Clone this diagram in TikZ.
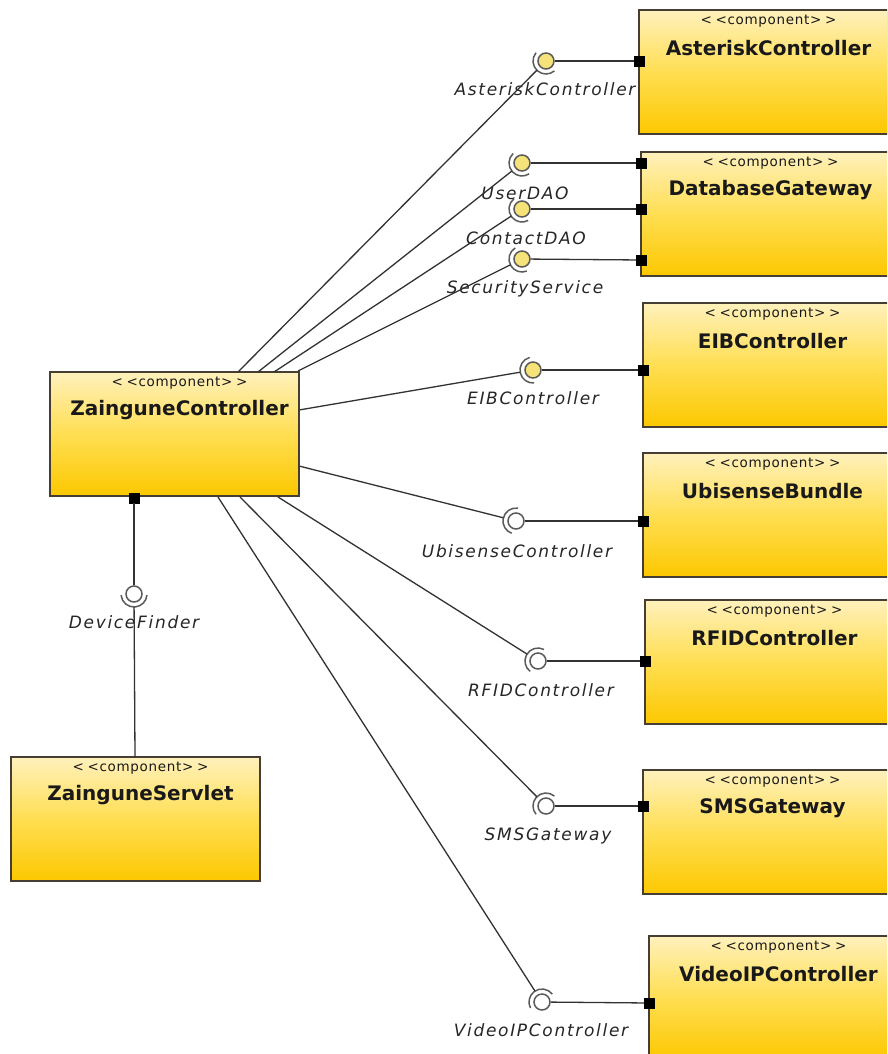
\documentclass[tikz,border=0pt]{standalone}
\usepackage{fontspec}
\setmainfont{DejaVu Sans}
\newfontfamily\lblfont[LetterSpace=10]{DejaVu Sans}
\newfontfamily\namefont{DejaVu Sans}
\newfontfamily\stereofont[LetterSpace=5]{DejaVu Sans}
\usetikzlibrary{calc}

\definecolor{boxtop}{RGB}{255,241,188}
\definecolor{boxmid}{RGB}{255,222,82}
\definecolor{boxbot}{RGB}{252,200,0}
\definecolor{edgec}{RGB}{70,62,50}
\definecolor{wirec}{RGB}{50,50,50}
\definecolor{lolly}{RGB}{245,226,120}
\definecolor{ringc}{RGB}{90,90,90}

\tikzset{
  comp/.style={draw=edgec, line width=1.3pt, top color=boxtop, bottom color=boxbot,
    middle color=boxmid, minimum width=249pt, minimum height=124pt,
    inner sep=0pt, outer sep=0pt, anchor=north west},
  stereo/.style={font=\stereofont\fontsize{13.5}{15}\selectfont, text=black!90, inner sep=0pt},
  cname/.style={font=\namefont\bfseries\fontsize{20}{24}\selectfont, text=black!90, inner sep=0pt},
  port/.style={fill=black, draw=black, minimum size=10pt, inner sep=0pt, outer sep=0pt},
  prov/.style={circle, draw=ringc, line width=1.5pt, fill=lolly, minimum size=16pt, inner sep=0pt},
  provw/.style={prov, fill=white},
  wire/.style={draw=wirec, line width=1.3pt},
  ring/.style={draw=ringc, line width=1.5pt},
  lbl/.style={font=\lblfont\itshape\fontsize{17}{20}\selectfont, text=black!85, inner sep=0pt},
}

% component box with stereotype and title
\newcommand\umlcomp[4]{%
  \node[comp] (#1) at (#2,-#3) {};
  \node[stereo] (#1-st) at ($(#1.north)+(5,-11)$) {<\;<component>\;>};
  \node[cname] (#1-nm) at ($(#1.north)+(5,-38)$) {#4};
}

% required-interface socket around a lollipop, wired back to a source point
\newcommand\socket[2]{%
  \draw[ring] let \p1=($(#2)-(#1)$), \n1={atan2(\y1,\x1)} in
    ($(#1)+(\n1-85:13pt)$) arc[start angle=\n1-85, end angle=\n1+85, radius=13pt];
  \draw[wire] (#2) -- ($(#1)!13pt!(#2)$);
}

\begin{document}
\begin{tikzpicture}[x=1pt,y=1pt]
  \path[clip] (0,0) rectangle (887,-1054);
  \fill[white] (0,0) rectangle (887,-1054);

  % components
  \umlcomp{zc}{50}{372}{ZainguneController}
  \umlcomp{zs}{11}{757}{ZainguneServlet}
  \umlcomp{ast}{639}{10}{AsteriskController}
  \umlcomp{db}{641}{152}{DatabaseGateway}
  \umlcomp{eib}{643}{303}{EIBController}
  \umlcomp{ubi}{643}{453}{UbisenseBundle}
  \umlcomp{rfid}{645}{600}{RFIDController}
  \umlcomp{sms}{643}{770}{SMSGateway}
  \umlcomp{vid}{649}{936}{VideoIPController}

  % ports
  \node[port] (p-ast)  at (639,-61) {};
  \node[port] (p-usr)  at (641,-163) {};
  \node[port] (p-con)  at (641,-209) {};
  \node[port] (p-sec)  at (641,-260) {};
  \node[port] (p-eib)  at (643,-370) {};
  \node[port] (p-ubi)  at (643,-521) {};
  \node[port] (p-rfid) at (645,-661) {};
  \node[port] (p-sms)  at (643,-806) {};
  \node[port] (p-vid)  at (649,-1003) {};
  \node[port] (p-df)   at (134,-498) {};

  % provided interfaces
  \node[prov]  (i-ast)  at (546,-61) {};
  \node[prov]  (i-usr)  at (522,-163) {};
  \node[prov]  (i-con)  at (522,-209) {};
  \node[prov]  (i-sec)  at (522,-259) {};
  \node[prov]  (i-eib)  at (533,-370) {};
  \node[provw] (i-ubi)  at (516,-521) {};
  \node[provw] (i-rfid) at (538,-661) {};
  \node[provw] (i-sms)  at (546,-806) {};
  \node[provw] (i-vid)  at (542,-1002) {};
  \node[provw] (i-df)   at (134,-594) {};

  % interface labels
  \node[lbl] (l-ast)  at (545,-89)   {AsteriskController};
  \node[lbl] (l-usr)  at (525,-193)  {UserDAO};
  \node[lbl] (l-con)  at (526,-238)  {ContactDAO};
  \node[lbl] (l-sec)  at (525,-289)  {SecurityService};
  \node[lbl] (l-eib)  at (533,-398)  {EIBController};
  \node[lbl] (l-ubi)  at (517,-551)  {UbisenseController};
  \node[lbl] (l-rfid) at (541,-690)  {RFIDController};
  \node[lbl] (l-sms)  at (548,-836)  {SMSGateway};
  \node[lbl] (l-vid)  at (541,-1030) {VideoIPController};
  \node[lbl] (l-df)   at (134,-622)  {DeviceFinder};

  % provider wires
  \foreach \k in {ast,usr,con,sec,eib,ubi,rfid,sms,vid,df}
    {\draw[wire] (i-\k) -- (p-\k);}

  % requirer start points
  \coordinate (s-ast)  at (238,-372);
  \coordinate (s-usr)  at (258,-372);
  \coordinate (s-con)  at (274,-372);
  \coordinate (s-sec)  at (298,-371);
  \coordinate (s-eib)  at (299,-410);
  \coordinate (s-ubi)  at (299,-466);
  \coordinate (s-rfid) at (278,-497);
  \coordinate (s-sms)  at (240,-497);
  \coordinate (s-vid)  at (218,-497);
  \coordinate (s-df)   at (135,-757);

  % sockets
  \foreach \k in {ast,usr,con,sec,eib,ubi,rfid,sms,vid,df}
    {\socket{i-\k}{s-\k}}
\end{tikzpicture}
\end{document}
